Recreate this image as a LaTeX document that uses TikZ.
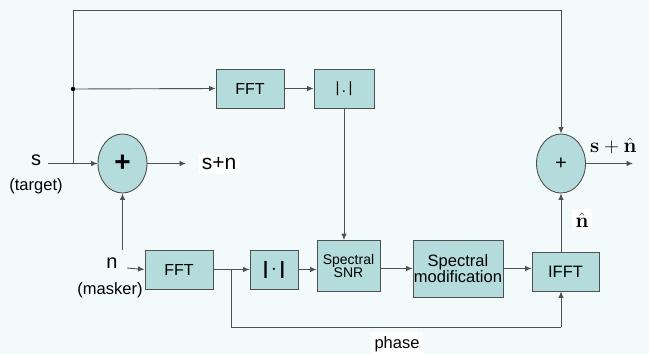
\documentclass[tikz,border=0pt]{standalone}
\usepackage[no-math]{fontspec}
\setmainfont{Liberation Sans}
\usetikzlibrary{arrows.meta,shapes.geometric}
\definecolor{bg}{HTML}{F3FAFB}
\definecolor{boxfill}{HTML}{B5DCDC}
\definecolor{edge}{HTML}{505050}
\tikzset{
  block/.style={draw=edge, fill=boxfill, line width=0.9pt, inner sep=0pt, align=center},
  summer/.style={ellipse, draw=edge, fill=boxfill, line width=0.9pt, inner sep=0pt,
                 minimum width=49pt, minimum height=59pt},
  wire/.style={draw=edge, line width=0.9pt},
  flow/.style={wire, -{Latex[length=6.5pt,width=5.5pt]}},
  lbl/.style={inner sep=1pt, text=black},
  patch/.style={lbl, fill=white, inner sep=4pt},
  fs/.style={font=\fontsize{#1}{#1}\selectfont}
}
\begin{document}
\begin{tikzpicture}[x=1pt,y=-1pt]
  \fill[bg] (0,0) rectangle (649,354);
  \useasboundingbox (0,0) rectangle (649,354);

  % processing blocks
  \node[block, minimum width=68pt, minimum height=39pt, fs=16] (fft1) at (250,88.5) {FFT};
  \node[block, minimum width=60pt, minimum height=39pt, fs=15] (abs1) at (344,88.5) {|\,.\,|};
  \node[block, minimum width=68pt, minimum height=39pt, fs=16] (fft2) at (179,269.5) {FFT};
  \node[block, minimum width=48pt, minimum height=39pt, fs=18] (abs2) at (274,269.5) {\textbf{|}\,{\fontsize{22}{22}\selectfont$\cdot$}\,\textbf{|}};
  \node[block, minimum width=63pt, minimum height=51pt, fs=14] (snr) at (348.5,266) {Spectral\\[-1pt]SNR};
  \node[block, minimum width=90pt, minimum height=57pt, fs=16.5] (mod) at (458,268.5) {Spectral\\[-1pt]modification};
  \node[block, minimum width=67pt, minimum height=39pt, fs=16.5] (ifft) at (565.5,271.5) {IFFT};

  % summing junctions
  \node[summer, fs=28] (sum1) at (122.5,163.5) {\textbf{+}};
  \node[summer, fs=20] (sum2) at (561,163.5) {+};

  % signal labels
  \node[lbl, fs=20] (s) at (36,160) {s};
  \node[lbl, fs=16.5] (starget) at (36,186) {(target)};
  \node[patch, fs=21] (sn) at (219,164) {s+n};
  \node[lbl, fs=20] (n) at (112,263) {n};
  \node[lbl, fs=16.5] (nmasker) at (110,290) {(masker)};
  \node[patch, fs=16.5] (phase) at (397,344) {phase};
  \node[patch, fs=22] (nhat) at (582,220) {$\hat{\mathbf{n}}$};
  \node[lbl, anchor=west, fs=21] (out) at (589,146) {$\mathbf{s}+\hat{\mathbf{n}}$};

  % free ends and bends
  \coordinate (sin) at (48,163.5);
  \coordinate (split) at (73,163.5);
  \coordinate (dot) at (73,89);
  \coordinate (topl) at (73,10);
  \coordinate (topr) at (561,10);
  \coordinate (nin) at (127,268);
  \coordinate (nup) at (122.5,250);
  \coordinate (ph) at (231,269.5);
  \coordinate (phb) at (231,327);
  \coordinate (outend) at (633,163.5);
  \coordinate (snend) at (186,163.5);

  % target path
  \draw[flow] (sin) -- (sum1.west);
  \draw[wire] (split) -- (topl) -- (topr);
  \draw[flow] (topr) -- (sum2.north);
  \draw[flow] (dot) -- (fft1.west);
  \fill[black] (dot) circle (2.2pt);
  \draw[flow] (fft1) -- (abs1);
  \draw[flow] (abs1.south) -- (abs1.south |- snr.north);
  \draw[flow] (sum1.east) -- (snend);

  % masker path
  \draw[flow] (nup) -- (sum1.south);
  \draw[flow] (nin) -- (fft2.west);
  \draw[flow] (fft2) -- (abs2);
  \draw[flow] (abs2) -- (abs2.east -| snr.west);
  \draw[flow] (snr.east |- mod) -- (mod);
  \draw[flow] (mod) -- (mod.east -| ifft.west);
  \draw[wire] (ph) -- (phb) -- (phb -| sum2.south);
  \draw[flow] (phb -| sum2.south) -- (ifft.south -| sum2.south);
  \draw[flow] (ifft.north -| sum2.south) -- (sum2.south);
  \draw[flow] (sum2.east) -- (outend);
\end{tikzpicture}
\end{document}
